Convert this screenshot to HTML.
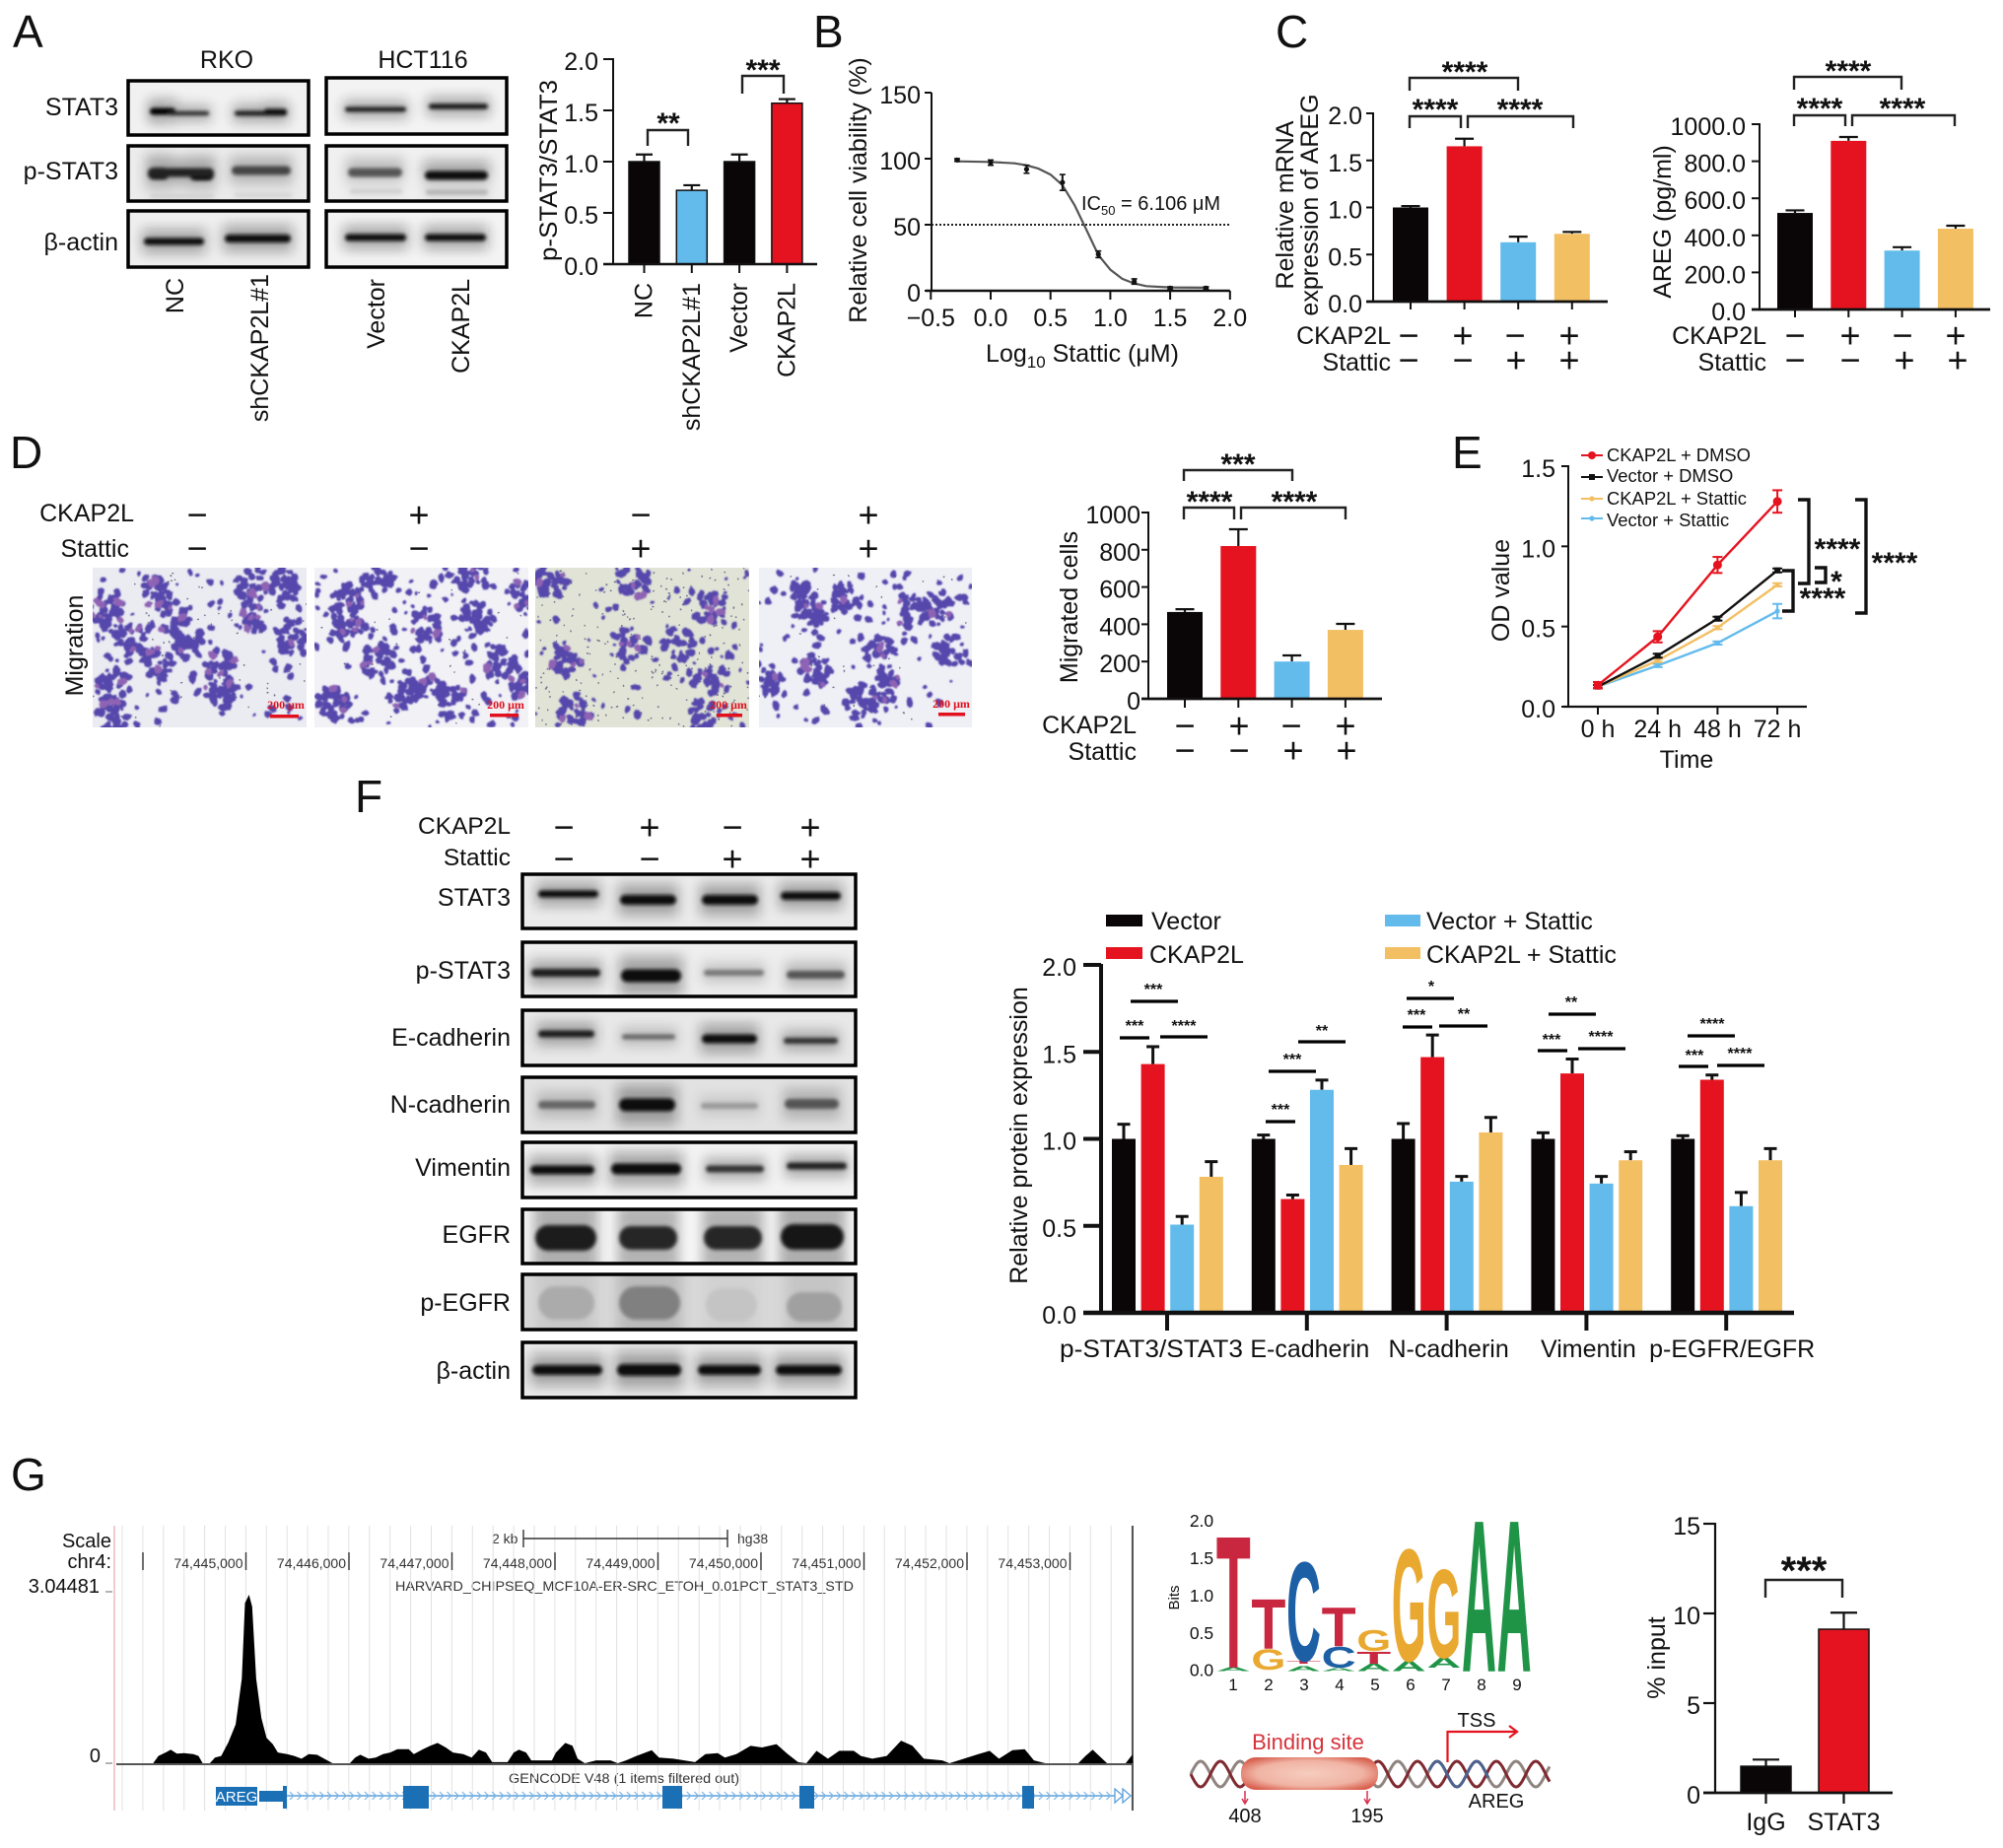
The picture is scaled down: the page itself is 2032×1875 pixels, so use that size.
<!DOCTYPE html>
<html lang="en">
<head>
<meta charset="utf-8">
<title>CKAP2L STAT3 AREG multi-panel figure</title>
<style>
html,body{margin:0;padding:0;background:#fff;}
svg{display:block;font-family:"Liberation Sans",sans-serif;fill:#111;}
text{font-size:25px;}
.e{text-anchor:end;}
.m{text-anchor:middle;}
.L{font-size:46px;}
.st{font-weight:bold;text-anchor:middle;font-size:30px;}
.fs{font-weight:bold;text-anchor:middle;font-size:16px;}
.br{fill:none;stroke:#222;stroke-width:2.4;}
.brb{fill:none;stroke:#111;stroke-width:3.4;}
.sg{stroke:#000;stroke-width:3.2;}
.sb{font-family:"Liberation Serif",serif;font-weight:bold;font-size:12px;fill:#e0101c;text-anchor:middle;}
.ucsc{font-size:14px;fill:#333;}
</style>
</head>
<body>
<svg id="figure" xmlns="http://www.w3.org/2000/svg" width="2032" height="1875" viewBox="0 0 2032 1875">
<defs>
<filter id="blot-blur" x="-30%" y="-200%" width="160%" height="500%"><feGaussianBlur stdDeviation="1.8"/></filter>
<filter id="blot-halo" x="-30%" y="-300%" width="160%" height="700%"><feGaussianBlur stdDeviation="6"/></filter>
<filter id="mig-soft" x="0" y="0" width="100%" height="100%"><feGaussianBlur stdDeviation="0.7"/></filter>
<radialGradient id="pill-grad" cx="50%" cy="50%" r="60%"><stop offset="0%" stop-color="#f6cdbf"/><stop offset="65%" stop-color="#f0b3a3"/><stop offset="100%" stop-color="#d8604f"/></radialGradient>
</defs>
<rect x="0" y="0" width="2032" height="1875" fill="#fff"/>

<g id="layer-under"></g>

<g>
<text class="L" x="13" y="48">A</text>
<text class="L" x="825" y="48">B</text>
<text class="L" x="1294" y="48">C</text>
<text class="L" x="10" y="475">D</text>
<text class="L" x="1473" y="475">E</text>
<text class="L" x="360" y="824">F</text>
<text class="L" x="11" y="1512">G</text>
</g>

<g>
<text class="m" x="230" y="69">RKO</text>
<text class="m" x="429" y="69">HCT116</text>
<text class="e" x="120" y="117">STAT3</text>
<text class="e" x="120" y="182">p-STAT3</text>
<text class="e" x="120" y="254">β-actin</text>
<text class="e" transform="translate(186,282) rotate(-90)">NC</text>
<text class="e" transform="translate(272,278) rotate(-90)">shCKAP2L#1</text>
<text class="e" transform="translate(390,283) rotate(-90)">Vector</text>
<text class="e" transform="translate(476,283) rotate(-90)">CKAP2L</text>
<text class="m" transform="translate(565,173) rotate(-90)" textLength="184" lengthAdjust="spacingAndGlyphs">p-STAT3/STAT3</text>
</g>
<g>
<path class="br" d="M657 148V132H698V148"/>
<path class="br" d="M753 95V77H795V95"/>
<text class="st" x="678" y="135">**</text>
<text class="st" x="774" y="81">***</text>
</g>

<g>
<text class="m" transform="translate(879,193) rotate(-90)">Relative cell viability (%)</text>
<text class="m" x="1098" y="367">Log<tspan dy="6" font-size="17">10</tspan><tspan dy="-6"> Stattic (μM)</tspan></text>
<text x="1097" y="213" style="font-size:20px">IC<tspan dy="5" font-size="13">50</tspan><tspan dy="-5"> = 6.106 μM</tspan></text>
</g>

<g>
<text class="m" transform="translate(1312,208) rotate(-90)">Relative mRNA</text>
<text class="m" transform="translate(1337,208) rotate(-90)">expression of AREG</text>
<text class="e" x="1411" y="349">CKAP2L</text>
<text class="e" x="1411" y="376">Stattic</text>
<text class="m" transform="translate(1695,225) rotate(-90)">AREG (pg/ml)</text>
<text class="e" x="1792" y="349">CKAP2L</text>
<text class="e" x="1792" y="376">Stattic</text>
<path class="br" d="M1430 92V79H1540V92M1430 130V118H1482V130M1489 130V118H1596V130"/>
<path class="br" d="M1820 91V78H1929V91M1820 128V117H1872V128M1879 128V117H1983V128"/>
<text class="st" x="1486" y="83">****</text>
<text class="st" x="1456" y="121">****</text>
<text class="st" x="1542" y="121">****</text>
<text class="st" x="1875" y="82">****</text>
<text class="st" x="1846" y="120">****</text>
<text class="st" x="1930" y="120">****</text>
</g>

<g>
<text class="e" x="136" y="529">CKAP2L</text>
<text class="e" x="131" y="565">Stattic</text>
<text class="m" transform="translate(84,655) rotate(-90)">Migration</text>
<text class="m" transform="translate(1093,616) rotate(-90)">Migrated cells</text>
<text class="e" x="1153" y="744">CKAP2L</text>
<text class="e" x="1153" y="771">Stattic</text>
<path class="br" d="M1201 488V477H1311V488M1201 527V515H1252V527M1259 527V515H1365V527"/>
<text class="st" x="1256" y="481">***</text>
<text class="st" x="1227" y="519">****</text>
<text class="st" x="1313" y="519">****</text>
</g>

<g>
<text class="m" transform="translate(1531,599) rotate(-90)">OD value</text>
<text class="m" x="1711" y="779">Time</text>
<path class="brb" d="M1824 507H1835V592H1824"/>
<path class="brb" d="M1841 576H1852V591H1841"/>
<path class="brb" d="M1808 579H1819V620H1808"/>
<path class="brb" d="M1882 507H1893V622H1882"/>
<text class="st" x="1864" y="567">****</text>
<text class="st" x="1863" y="600">*</text>
<text class="st" x="1849" y="617">****</text>
<text class="st" x="1922" y="581">****</text>
<g>
<text x="1630" y="468" style="font-size:18.4px">CKAP2L + DMSO</text>
<text x="1630" y="489" style="font-size:18.4px">Vector + DMSO</text>
<text x="1630" y="512" style="font-size:18.4px">CKAP2L + Stattic</text>
<text x="1630" y="534" style="font-size:18.4px">Vector + Stattic</text>
<path d="M1604 462H1626" stroke="#e5131f" stroke-width="2"/>
<circle cx="1615" cy="462" r="4" fill="#e5131f"/>
<path d="M1604 484H1626" stroke="#111" stroke-width="2"/>
<rect x="1612" y="481" width="6" height="6" fill="#111"/>
<path d="M1604 506H1626" stroke="#f3bf63" stroke-width="2"/>
<circle cx="1615" cy="506" r="2.6" fill="#f3bf63"/>
<path d="M1604 526H1626" stroke="#63bbec" stroke-width="2"/>
<circle cx="1615" cy="526" r="2.6" fill="#63bbec"/>
</g>
</g>

<g>
<text class="e" x="518" y="846" style="font-size:24.5px">CKAP2L</text>
<text class="e" x="518" y="878" style="font-size:24.5px">Stattic</text>
<text class="e" x="518" y="919">STAT3</text>
<text class="e" x="518" y="993">p-STAT3</text>
<text class="e" x="518" y="1061">E-cadherin</text>
<text class="e" x="518" y="1129">N-cadherin</text>
<text class="e" x="518" y="1193">Vimentin</text>
<text class="e" x="518" y="1261">EGFR</text>
<text class="e" x="518" y="1330">p-EGFR</text>
<text class="e" x="518" y="1399">β-actin</text>
</g>

<g>
<text class="m" transform="translate(1042,1152) rotate(-90)">Relative protein expression</text>
<rect x="1122" y="928" width="37" height="12" fill="#0a0506"/>
<rect x="1122" y="961" width="37" height="12" fill="#e5131f"/>
<rect x="1405" y="928" width="36" height="12" fill="#63bbec"/>
<rect x="1405" y="961" width="36" height="12" fill="#f3bf63"/>
<text x="1168" y="943">Vector</text>
<text x="1166" y="977">CKAP2L</text>
<text x="1447" y="943">Vector + Stattic</text>
<text x="1447" y="977">CKAP2L + Stattic</text>
<path class="sg" d="M1136 1053H1166M1147 1016H1195M1177 1052H1225M1284 1138H1314M1287 1087H1335M1317 1057H1365M1423 1042H1453M1427 1013H1475M1460 1041H1509M1560 1066H1590M1571 1029H1619M1601 1064H1649M1703 1082H1733M1712 1051H1760M1742 1081H1790"/>
<text class="fs" x="1151" y="1046">***</text>
<text class="fs" x="1170" y="1009">***</text>
<text class="fs" x="1201" y="1046">****</text>
<text class="fs" x="1299" y="1131">***</text>
<text class="fs" x="1311" y="1080">***</text>
<text class="fs" x="1341" y="1051">**</text>
<text class="fs" x="1437" y="1035">***</text>
<text class="fs" x="1452" y="1006">*</text>
<text class="fs" x="1485" y="1034">**</text>
<text class="fs" x="1574" y="1060">***</text>
<text class="fs" x="1594" y="1022">**</text>
<text class="fs" x="1624" y="1057">****</text>
<text class="fs" x="1719" y="1076">***</text>
<text class="fs" x="1737" y="1044">****</text>
<text class="fs" x="1765" y="1074">****</text>
</g>

<g>
<text class="e" x="113" y="1570" style="font-size:20px">Scale</text>
<text class="e" x="113" y="1591" style="font-size:20px">chr4:</text>
<text class="e" x="101" y="1616" style="font-size:20px">3.04481</text>
<text class="e" x="102" y="1788" style="font-size:20px">0</text>
<text class="ucsc" x="499" y="1566">2 kb</text>
<text class="ucsc" x="748" y="1566">hg38</text>
<text class="ucsc" x="401" y="1614" textLength="465" lengthAdjust="spacingAndGlyphs">HARVARD_CHIPSEQ_MCF10A-ER-SRC_ETOH_0.01PCT_STAT3_STD</text>
<text class="ucsc" x="516" y="1809" textLength="234" lengthAdjust="spacingAndGlyphs">GENCODE V48 (1 items filtered out)</text>
</g>

<g>
<text class="m" transform="translate(1196,1621) rotate(-90)" style="font-size:15px">Bits</text>
</g>

<g>
<text class="m" x="1327" y="1775" style="font-size:22px;fill:#d6333a">Binding site</text>
<text class="m" x="1498" y="1752" style="font-size:20px">TSS</text>
<text class="m" x="1518" y="1834" style="font-size:20px">AREG</text>
<text class="m" x="1263" y="1849" style="font-size:20px">408</text>
<text class="m" x="1387" y="1849" style="font-size:20px">195</text>
</g>

<g>
<text class="m" transform="translate(1689,1682) rotate(-90)">% input</text>
<path class="br" d="M1791 1621V1603H1869V1621"/>
<text class="st" x="1830" y="1607" style="font-size:40px">***</text>
</g>

<g id="layer-marks"></g>

<g>
<text class="sb" x="290" y="719">200 μm</text>
<text class="sb" x="513" y="719">200 μm</text>
<text class="sb" x="739" y="719">200 μm</text>
<text class="sb" x="965" y="718">200 μm</text>
<rect x="274" y="725" width="29" height="3.5" fill="#e0101c"/>
<rect x="497" y="724" width="29" height="3.5" fill="#e0101c"/>
<rect x="727" y="724" width="26" height="3.5" fill="#e0101c"/>
<rect x="952" y="723" width="27" height="3.5" fill="#e0101c"/>
</g>
</svg>

<script>
/* ---------- chart data ---------- */
const aCategories = ['NC', 'shCKAP2L#1', 'Vector', 'CKAP2L'];
const aValues = [1.0, 0.72, 1.0, 1.57];
const aErrors = [0.07, 0.05, 0.07, 0.04];
const aTicks = [0, 0.5, 1, 1.5, 2];
const aTickLabels = ['0.0', '0.5', '1.0', '1.5', '2.0'];

const viabilityPointDose = [-0.28, 0, 0.3, 0.6, 0.9, 1.2, 1.5, 1.8];
const viabilityPointValues = [99, 97, 92, 82, 27.6, 7, 2, 2];
const viabilityPointErrors = [1, 2, 3, 6, 2.5, 2, 1, 1];
const viabilityCurveDose = [-0.28, 0, 0.2, 0.3, 0.4, 0.5, 0.6, 0.7, 0.78, 0.9, 1.0, 1.1, 1.2, 1.3, 1.5, 1.8];
const viabilityCurveValues = [98, 97.5, 96.5, 95, 92.5, 88, 80, 65, 50, 27, 16, 9, 5.5, 3.5, 2.5, 2.3];
const bXTicks = [-0.5, 0, 0.5, 1, 1.5, 2];
const bXTickLabels = ['−0.5', '0.0', '0.5', '1.0', '1.5', '2.0'];
const bYTicks = [0, 50, 100, 150];
const bYTickLabels = ['0', '50', '100', '150'];
const ic50Reference = 50;

const conditionCategories = ['control', 'ckap2l', 'stattic', 'ckap2l-stattic'];
const c1Values = [1.0, 1.65, 0.63, 0.72];
const c1Errors = [0.015, 0.08, 0.06, 0.02];
const c1Ticks = [0, 0.5, 1, 1.5, 2];
const c1TickLabels = ['0.0', '0.5', '1.0', '1.5', '2.0'];
const c2Values = [521, 910, 318, 436];
const c2Errors = [14, 21, 18, 16];
const c2Ticks = [0, 200, 400, 600, 800, 1000];
const c2TickLabels = ['0.0', '200.0', '400.0', '600.0', '800.0', '1000.0'];

const dValues = [466, 820, 200, 370];
const dErrors = [15, 90, 33, 32];
const dTicks = [0, 200, 400, 600, 800, 1000];
const dTickLabels = ['0', '200', '400', '600', '800', '1000'];

const ckap2lSigns = ['−', '+', '−', '+'];
const statticSigns = ['−', '−', '+', '+'];

const eTimeLabels = ['0 h', '24 h', '48 h', '72 h'];
const eCkap2lDmso = [0.134, 0.436, 0.884, 1.28];
const eCkap2lDmsoErr = [0.02, 0.035, 0.05, 0.07];
const eVectorDmso = [0.125, 0.318, 0.549, 0.85];
const eVectorDmsoErr = [0.01, 0.012, 0.012, 0.012];
const eCkap2lStattic = [0.125, 0.288, 0.493, 0.76];
const eCkap2lStatticErr = [0.01, 0.01, 0.01, 0.01];
const eVectorStattic = [0.125, 0.257, 0.397, 0.596];
const eVectorStatticErr = [0.01, 0.01, 0.01, 0.045];
const eTicks = [0, 0.5, 1, 1.5];
const eTickLabels = ['0.0', '0.5', '1.0', '1.5'];

const fCategories = ['p-STAT3/STAT3', 'E-cadherin', 'N-cadherin', 'Vimentin', 'p-EGFR/EGFR'];
const fVector = [1.0, 1.0, 1.0, 1.0, 1.0];
const fVectorErr = [0.084, 0.022, 0.088, 0.035, 0.018];
const fCkap2l = [1.43, 0.654, 1.47, 1.376, 1.34];
const fCkap2lErr = [0.10, 0.023, 0.127, 0.083, 0.027];
const fVectorStattic = [0.507, 1.282, 0.754, 0.743, 0.613];
const fVectorStatticErr = [0.047, 0.056, 0.03, 0.041, 0.079];
const fCkap2lStattic = [0.782, 0.85, 1.037, 0.877, 0.877];
const fCkap2lStatticErr = [0.087, 0.094, 0.086, 0.049, 0.067];
const fTicks = [0, 0.5, 1, 1.5, 2];
const fTickLabels = ['0.0', '0.5', '1.0', '1.5', '2.0'];

/* ChIP-seq coverage: kb past chr4:74,444,000 and signal */
const coverageKb = [0.10,0.15,0.22,0.27,0.33,0.40,0.49,0.54,0.58,0.65,0.70,0.76,0.83,0.90,0.96,0.99,1.03,1.06,1.10,1.15,1.20,1.26,1.31,1.40,1.47,1.54,1.61,1.69,1.76,1.84,2.01,2.06,2.11,2.19,2.26,2.33,2.40,2.47,2.58,2.63,2.72,2.79,2.86,2.94,3.01,3.11,3.19,3.26,3.33,3.39,3.54,3.60,3.65,3.72,3.77,3.97,4.01,4.10,4.17,4.22,4.29,4.40,4.54,4.61,4.69,4.79,4.94,5.01,5.15,5.36,5.46,5.58,5.65,5.76,5.90,6.01,6.15,6.26,6.36,6.44,6.54,6.65,6.76,6.90,6.97,7.08,7.22,7.36,7.47,7.58,7.76,7.83,7.97,8.11,8.22,8.31,8.44,8.56,8.65,8.76,9.08,9.15,9.22,9.33,9.36,9.54,9.61];
const coverageSignal = [0,0.13,0.19,0.24,0.17,0.18,0.16,0.13,0,0,0.10,0.13,0.37,0.69,1.50,2.84,2.99,2.78,1.50,0.80,0.45,0.34,0.19,0.16,0.13,0.08,0.16,0.15,0.08,0,0,0.10,0.15,0.08,0.10,0.16,0.19,0.25,0.25,0.16,0.25,0.31,0.36,0.28,0.19,0.16,0.10,0.24,0.19,0.02,0.02,0.19,0.24,0.19,0.05,0.05,0.19,0.36,0.31,0.08,0,0.05,0.05,0,0.05,0.13,0.23,0.10,0.08,0.02,0.16,0.18,0.10,0.16,0.31,0.28,0.34,0.16,0.02,0,0.22,0.08,0.22,0.22,0.13,0.08,0.13,0.40,0.31,0.08,0.05,0,0.08,0.16,0.22,0.08,0.23,0.25,0.05,0,0,0.13,0.24,0.05,0,0,0.16];
const coordTickKb = [1, 2, 3, 4, 5, 6, 7, 8, 9];
const coordTickLabels = ['74,445,000','74,446,000','74,447,000','74,448,000','74,449,000','74,450,000','74,451,000','74,452,000','74,453,000'];

/* sequence logo: column, letter, lower bits, upper bits */
const logoColumns = [1,1,2,2,3,3,3,4,4,4,5,5,5,6,6,7,7,8,9];
const logoLetters = ['A','T','G','T','A','T','C','A','C','T','A','T','G','A','G','A','G','A','A'];
const logoLower = [0,0.05,0.02,0.30,0,0.10,0.14,0,0.05,0.34,0,0.10,0.27,0,0.14,0.05,0.18,0,0];
const logoUpper = [0.05,1.79,0.29,0.96,0.07,0.14,1.45,0.04,0.33,0.85,0.10,0.26,0.55,0.13,1.62,0.18,1.34,2,2];
const logoTicks = [0, 0.5, 1, 1.5, 2];
const logoTickLabels = ['0.0', '0.5', '1.0', '1.5', '2.0'];
const logoPositions = ['1','2','3','4','5','6','7','8','9'];

const chipCategories = ['IgG', 'STAT3'];
const chipValues = [1.48, 9.12];
const chipErrors = [0.37, 0.92];
const chipTicks = [0, 5, 10, 15];
const chipTickLabels = ['0', '5', '10', '15'];

/* ---------- drawing helpers ---------- */
const NS = 'http://www.w3.org/2000/svg';
const marks = document.getElementById('layer-marks');
const under = document.getElementById('layer-under');
const BLACK = '#0a0506', RED = '#e5131f', BLUE = '#63bbec', ORANGE = '#f3bf63';

function mk(tag, attrs, parent, name) {
  const el = document.createElementNS(NS, tag);
  for (const k in attrs) el.setAttribute(k, attrs[k]);
  
  
  parent.appendChild(el);
  return el;
}
function label(str, attrs, parent, name) {
  const el = mk('text', attrs, parent, name);
  el.textContent = str;
  return el;
}
function scaleY(o) {
  return function (v) { return o.yZero - (v / o.maxV) * (o.yZero - o.yTop); };
}
function drawAxes(o, ticks, tickLabels) {
  const y = scaleY(o);
  const g = mk('g', {}, marks, o.id + '-axes');
  mk('line', {x1: o.axisX, x2: o.axisX, y1: o.yTop - 1, y2: o.yZero, stroke: '#111', 'stroke-width': o.axisW}, g, o.id + '-y-axis');
  ticks.forEach(function (t, i) {
    mk('line', {x1: o.tickLeft, x2: o.axisX, y1: y(t), y2: y(t), stroke: '#111', 'stroke-width': o.axisW}, g, o.id + '-y-tick');
    label(tickLabels[i], {x: o.labelX, y: y(t) + 11, class: 'e'}, g, o.id + '-y-tick-label');
  });
  return g;
}
function drawBars(o, g, xs, vals, errs, colors, names) {
  const y = scaleY(o);
  xs.forEach(function (x, i) {
    const top = y(vals[i]);
    const et = y(vals[i] + errs[i]);
    const cx = x + o.w / 2;
    mk('line', {x1: cx, x2: cx, y1: top, y2: et, stroke: '#111', 'stroke-width': o.errW}, g, names[i] + '-error-bar');
    mk('line', {x1: cx - o.capW / 2, x2: cx + o.capW / 2, y1: et, y2: et, stroke: '#111', 'stroke-width': o.errW}, g, names[i] + '-error-cap');
    const attrs = {x: x, y: top, width: o.w, height: o.yZero - top, fill: colors[i]};
    if (o.outline) { attrs.stroke = '#111'; attrs['stroke-width'] = o.outline; }
    mk('rect', attrs, g, names[i]);
  });
}
function drawBaseline(o, g) {
  mk('line', {x1: o.base1, x2: o.base2, y1: o.yZero, y2: o.yZero, stroke: '#111', 'stroke-width': o.baseW}, g, o.id + '-x-axis');
}
function simpleBarChart(o, cats, vals, errs, ticks, tickLabels, colors) {
  const g = drawAxes(o, ticks, tickLabels);
  const xs = vals.map(function (v, i) { return o.x0 + i * o.step; });
  drawBars(o, g, xs, vals, errs, colors, cats.map(function (c) { return o.id + '-bar-' + c.toLowerCase().replace(/[^a-z0-9]+/g, '-'); }));
  drawBaseline(o, g);
  xs.forEach(function (x) {
    const cx = x + o.w / 2;
    mk('line', {x1: cx, x2: cx, y1: o.yZero, y2: o.tickBottom, stroke: '#111', 'stroke-width': o.axisW}, g, o.id + '-x-tick');
  });
  return {g: g, centers: xs.map(function (x) { return x + o.w / 2; })};
}
function drawSigns(name, xs, yc, signs) {
  const g = mk('g', {}, marks, name);
  signs.forEach(function (s, i) {
    label(s, {x: xs[i], y: yc + 12.5, class: 'm', style: 'font-size:36px'}, g, name + '-sign');
  });
}

/* ---------- panel A: bars ---------- */
const a = {id: 'a', axisX: 622, yZero: 268, yTop: 60, maxV: 2, x0: 638, step: 48.3, w: 31, base1: 612, base2: 829, tickLeft: 612, labelX: 607, tickBottom: 277, axisW: 2, baseW: 2.4, capW: 17, errW: 2.2, outline: 1.5};
const aDrawn = simpleBarChart(a, aCategories, aValues, aErrors, aTicks, aTickLabels, [BLACK, BLUE, BLACK, RED]);
aDrawn.centers.forEach(function (cx, i) {
  label(aCategories[i], {transform: 'translate(' + (cx + 8) + ',287) rotate(-90)', class: 'e'}, aDrawn.g, 'a-x-tick-label');
});

/* ---------- panel B: dose response ---------- */
(function () {
  const X = function (v) { return 1005 + v * 121.4; };
  const Y = function (v) { return 295 - v * 1.34; };
  const g = mk('g', {}, marks, 'b-chart');
  mk('line', {x1: 945, x2: 945, y1: Y(150), y2: 295, stroke: '#111', 'stroke-width': 2}, g, 'b-y-axis');
  mk('line', {x1: 939, x2: X(2), y1: 295, y2: 295, stroke: '#111', 'stroke-width': 2.4}, g, 'b-x-axis');
  bYTicks.forEach(function (t, i) {
    mk('line', {x1: 938, x2: 945, y1: Y(t), y2: Y(t), stroke: '#111', 'stroke-width': 2}, g, 'b-y-tick');
    label(bYTickLabels[i], {x: 934, y: Y(t) + 11, class: 'e'}, g, 'b-y-tick-label');
  });
  bXTicks.forEach(function (t, i) {
    mk('line', {x1: X(t), x2: X(t), y1: 295, y2: 304, stroke: '#111', 'stroke-width': 2}, g, 'b-x-tick');
    label(bXTickLabels[i], {x: X(t), y: 331, class: 'm'}, g, 'b-x-tick-label');
  });
  mk('line', {x1: 945, x2: X(2), y1: Y(ic50Reference), y2: Y(ic50Reference), stroke: '#222', 'stroke-width': 2, 'stroke-dasharray': '2 2'}, g, 'ic50-reference-line');
  const pts = viabilityCurveDose.map(function (d, i) { return X(d).toFixed(1) + ',' + Y(viabilityCurveValues[i]).toFixed(1); }).join(' ');
  mk('polyline', {points: pts, fill: 'none', stroke: '#555', 'stroke-width': 2.2, 'stroke-linejoin': 'round'}, g, 'viability-fit-curve');
  viabilityPointDose.forEach(function (d, i) {
    const cx = X(d), v = viabilityPointValues[i], e = viabilityPointErrors[i];
    mk('line', {x1: cx, x2: cx, y1: Y(v - e), y2: Y(v + e), stroke: '#111', 'stroke-width': 2}, g, 'viability-error-bar');
    mk('line', {x1: cx - 3, x2: cx + 3, y1: Y(v + e), y2: Y(v + e), stroke: '#111', 'stroke-width': 1.6}, g, 'viability-error-cap');
    mk('line', {x1: cx - 3, x2: cx + 3, y1: Y(v - e), y2: Y(v - e), stroke: '#111', 'stroke-width': 1.6}, g, 'viability-error-cap');
    mk('circle', {cx: cx, cy: Y(v), r: 2.6, fill: '#111'}, g, 'viability-point');
  });
})();

/* ---------- panel C ---------- */
const fourColors = [BLACK, RED, BLUE, ORANGE];
simpleBarChart({id: 'c1', axisX: 1393, yZero: 306, yTop: 115, maxV: 2, x0: 1413, step: 54.6, w: 36, base1: 1386, base2: 1631, tickLeft: 1386, labelX: 1382, tickBottom: 314, axisW: 2, baseW: 2.8, capW: 19, errW: 2.2}, conditionCategories, c1Values, c1Errors, c1Ticks, c1TickLabels, fourColors);
simpleBarChart({id: 'c2', axisX: 1785, yZero: 314, yTop: 126, maxV: 1000, x0: 1803, step: 54.3, w: 36, base1: 1777, base2: 2019, tickLeft: 1777, labelX: 1771, tickBottom: 322, axisW: 2, baseW: 2.8, capW: 19, errW: 2.2}, conditionCategories, c2Values, c2Errors, c2Ticks, c2TickLabels, fourColors);
drawSigns('c1-ckap2l-signs', [1429, 1484, 1537, 1592], 340, ckap2lSigns);
drawSigns('c1-stattic-signs', [1429, 1484, 1538, 1592], 365, statticSigns);
drawSigns('c2-ckap2l-signs', [1821, 1877, 1930, 1984], 340, ckap2lSigns);
drawSigns('c2-stattic-signs', [1821, 1877, 1932, 1986], 365, statticSigns);

/* ---------- panel D chart ---------- */
simpleBarChart({id: 'd', axisX: 1165, yZero: 709, yTop: 520, maxV: 1000, x0: 1184, step: 54.3, w: 36, base1: 1158, base2: 1402, tickLeft: 1158, labelX: 1157, tickBottom: 718, axisW: 2, baseW: 2.8, capW: 19, errW: 2.2}, conditionCategories, dValues, dErrors, dTicks, dTickLabels, fourColors);
drawSigns('d-chart-ckap2l-signs', [1202, 1257, 1310, 1365], 736, ckap2lSigns);
drawSigns('d-chart-stattic-signs', [1202, 1257, 1312, 1366], 761, statticSigns);
drawSigns('d-image-ckap2l-signs', [200, 425, 650, 881], 522, ckap2lSigns);
drawSigns('d-image-stattic-signs', [200, 425, 650, 881], 556, statticSigns);
drawSigns('f-ckap2l-signs', [572, 659, 743, 822], 839, ckap2lSigns);
drawSigns('f-stattic-signs', [572, 659, 743, 822], 871, statticSigns);

/* ---------- panel E ---------- */
(function () {
  const o = {id: 'e', axisX: 1591, yZero: 717, yTop: 473, maxV: 1.5, tickLeft: 1584, labelX: 1578, axisW: 2};
  const g = drawAxes(o, eTicks, eTickLabels);
  const Y = scaleY(o);
  const X = function (i) { return 1621 + i * 60.7; };
  mk('line', {x1: 1586, x2: 1833, y1: 717, y2: 717, stroke: '#111', 'stroke-width': 2.2}, g, 'e-x-axis');
  eTimeLabels.forEach(function (t, i) {
    mk('line', {x1: X(i), x2: X(i), y1: 717, y2: 725, stroke: '#111', 'stroke-width': 2}, g, 'e-x-tick');
    label(t, {x: X(i), y: 748, class: 'm'}, g, 'e-x-tick-label');
  });
  function series(name, vals, errs, color, r, square) {
    const s = mk('g', {}, g, name);
    const pts = vals.map(function (v, i) { return X(i) + ',' + Y(v).toFixed(1); }).join(' ');
    mk('polyline', {points: pts, fill: 'none', stroke: color, 'stroke-width': 2.4}, s, name + '-line');
    vals.forEach(function (v, i) {
      const hi = Y(v + errs[i]), lo = Y(v - errs[i]);
      mk('line', {x1: X(i), x2: X(i), y1: hi, y2: lo, stroke: color, 'stroke-width': 2}, s, name + '-error-bar');
      mk('line', {x1: X(i) - 5, x2: X(i) + 5, y1: hi, y2: hi, stroke: color, 'stroke-width': 2}, s, name + '-error-cap');
      mk('line', {x1: X(i) - 5, x2: X(i) + 5, y1: lo, y2: lo, stroke: color, 'stroke-width': 2}, s, name + '-error-cap');
      if (square) mk('rect', {x: X(i) - r, y: Y(v) - r, width: 2 * r, height: 2 * r, fill: color}, s, name + '-point');
      else mk('circle', {cx: X(i), cy: Y(v), r: r, fill: color}, s, name + '-point');
    });
  }
  series('vector-stattic-series', eVectorStattic, eVectorStatticErr, BLUE, 2.5, false);
  series('ckap2l-stattic-series', eCkap2lStattic, eCkap2lStatticErr, ORANGE, 2.5, false);
  series('vector-dmso-series', eVectorDmso, eVectorDmsoErr, '#111', 3, true);
  series('ckap2l-dmso-series', eCkap2lDmso, eCkap2lDmsoErr, RED, 4.5, false);
})();

/* ---------- panel F chart ---------- */
(function () {
  const o = {id: 'f', axisX: 1117, yZero: 1332, yTop: 979, maxV: 2, tickLeft: 1099, labelX: 1092, axisW: 4, w: 24, capW: 13, errW: 3};
  const g = drawAxes(o, fTicks, fTickLabels);
  const series = [fVector, fCkap2l, fVectorStattic, fCkap2lStattic];
  const seriesErr = [fVectorErr, fCkap2lErr, fVectorStatticErr, fCkap2lStatticErr];
  const seriesName = ['vector', 'ckap2l', 'vector-stattic', 'ckap2l-stattic'];
  const nudge = [-16, 3, 2, 2, 6];
  fCategories.forEach(function (c, gi) {
    const gx = 1128 + gi * 141.8;
    const cSlug = c.toLowerCase().replace(/[^a-z0-9]+/g, '-');
    const xs = series.map(function (s, si) { return gx + si * 29.6; });
    drawBars(o, g, xs,
      series.map(function (s) { return s[gi]; }),
      seriesErr.map(function (s) { return s[gi]; }),
      fourColors,
      seriesName.map(function (n) { return 'f-bar-' + cSlug + '-' + n; }));
    const cx = gx + 56;
    mk('line', {x1: cx, x2: cx, y1: 1332, y2: 1350, stroke: '#111', 'stroke-width': 4}, g, 'f-x-tick');
    const attrs = {x: cx + nudge[gi], y: 1377, class: 'm'};
    if (gi === 0) { attrs.textLength = 186; attrs.lengthAdjust = 'spacingAndGlyphs'; }
    label(c, attrs, g, 'f-x-tick-label');
  });
  mk('line', {x1: 1099, x2: 1820, y1: 1332, y2: 1332, stroke: '#111', 'stroke-width': 4.5}, g, 'f-x-axis');
})();

/* ---------- western blots ---------- */
function blot(name, x1, y1, x2, y2, bg, bands) {
  const g = mk('g', {}, under, name);
  const clipId = name + '-clip';
  const clip = mk('clipPath', {id: clipId}, g, name + '-clip');
  mk('rect', {x: x1, y: y1, width: x2 - x1, height: y2 - y1}, clip, name + '-clip-rect');
  const inner = mk('g', {'clip-path': 'url(#' + clipId + ')'}, g, name + '-membrane-area');
  mk('rect', {x: x1, y: y1, width: x2 - x1, height: y2 - y1, fill: bg}, inner, name + '-membrane');
  const h = mk('g', {filter: 'url(#blot-halo)', opacity: 0.32}, inner, name + '-band-halos');
  bands.forEach(function (d) {
    mk('rect', {x: d[0] - 2, y: d[2] - d[3] * 1.3 - 3, width: d[1] - d[0] + 4, height: d[3] * 2.6 + 6, fill: d[4]}, h, name + '-band-halo');
  });
  const b = mk('g', {filter: 'url(#blot-blur)'}, inner, name + '-bands');
  bands.forEach(function (d) {
    mk('rect', {x: d[0], y: d[2] - d[3] / 2, width: d[1] - d[0], height: d[3], rx: d[3] / 2, fill: d[4]}, b, name + '-band');
  });
  mk('rect', {x: x1, y: y1, width: x2 - x1, height: y2 - y1, fill: 'none', stroke: '#000', 'stroke-width': 3.5}, g, name + '-frame');
}
blot('a-rko-stat3-blot', 130, 82, 313, 137, '#f1f1f1', [[152,178,113,7,'#000'],[170,212,115,4,'#222'],[238,291,115,5,'#1c1c1c'],[268,291,113,5,'#111']]);
blot('a-rko-p-stat3-blot', 130, 148, 313, 204, '#ececec', [[150,172,176,12,'#000'],[192,217,177,12,'#000'],[150,217,175,9,'#222'],[235,295,173,9,'#444'],[152,217,199,3,'#ccc'],[238,296,198,4,'#d4d4d4']]);
blot('a-rko-actin-blot', 130, 214, 313, 271, '#eeeeee', [[146,207,245,7,'#111'],[228,295,242,8,'#0c0c0c']]);
blot('a-hct-stat3-blot', 331, 79, 514, 136, '#f3f3f3', [[350,412,111,5,'#1a1a1a'],[435,495,108,5,'#111']]);
blot('a-hct-p-stat3-blot', 331, 148, 514, 204, '#f0f0f0', [[353,408,175,9,'#555'],[431,495,178,9,'#0c0c0c'],[355,408,194,5,'#d0d0d0'],[432,495,195,5,'#b4b4b4']]);
blot('a-hct-actin-blot', 331, 214, 514, 271, '#f3f3f3', [[350,412,241,7,'#0c0c0c'],[431,493,241,7,'#111']]);

blot('f-stat3-blot', 530, 887, 868, 942, '#ebebeb', [[546,607,907,7,'#111'],[629,686,913,10,'#0c0c0c'],[712,769,913,10,'#0c0c0c'],[792,853,909,8,'#111']]);
blot('f-p-stat3-blot', 530, 956, 868, 1011, '#eeeeee', [[539,609,987,8,'#1a1a1a'],[630,691,990,13,'#0a0a0a'],[714,775,987,6,'#777'],[798,857,989,8,'#555']]);
blot('f-e-cadherin-blot', 530, 1025, 868, 1081, '#e8e8e8', [[546,603,1049,7,'#1a1a1a'],[631,685,1052,5,'#666'],[712,768,1054,9,'#0c0c0c'],[795,850,1056,6,'#333']]);
blot('f-n-cadherin-blot', 530, 1093, 868, 1149, '#e2e2e2', [[546,604,1121,8,'#666'],[628,685,1121,13,'#0a0a0a'],[711,769,1122,6,'#999'],[796,851,1120,10,'#555']]);
blot('f-vimentin-blot', 530, 1159, 868, 1215, '#f3f3f3', [[538,603,1187,9,'#111'],[620,691,1186,11,'#080808'],[716,775,1186,7,'#333'],[798,859,1183,7,'#222']]);
blot('f-egfr-blot', 530, 1227, 868, 1282, '#f7f7f7', [[543,605,1256,26,'#1c1c1c'],[628,687,1256,24,'#262626'],[714,773,1256,24,'#262626'],[792,856,1255,26,'#161616']]);
blot('f-p-egfr-blot', 530, 1293, 868, 1349, '#d8d8d8', [[546,603,1322,34,'#ababab'],[628,690,1322,34,'#808080'],[716,768,1324,34,'#c4c4c4'],[798,854,1326,30,'#a0a0a0']]);
blot('f-actin-blot', 530, 1362, 868, 1418, '#ebebeb', [[540,611,1390,10,'#0c0c0c'],[626,691,1390,12,'#0a0a0a'],[708,772,1390,10,'#111'],[787,854,1390,10,'#111']]);

/* ---------- migration micrographs (texture only, not chart data) ---------- */
function micrograph(name, idx, x1, x2, bg, seed, clusters, scatter, dots) {
  const y1 = 576, y2 = 738;
  let s = seed;
  const rnd = function () { s = (s * 16807) % 2147483647; return s / 2147483647; };
  function blob(cx, cy, r) {
    let d = '';
    const n = 7;
    const ang = rnd() * 3.14, stretch = 0.05 + rnd() * 0.45;
    for (let i = 0; i < n; i++) {
      const a = i / n * 6.283 + rnd() * 0.4;
      const rr = r * (0.75 + rnd() * 0.45);
      const px = Math.cos(a) * rr * (1 + stretch), py = Math.sin(a) * rr;
      const qx = px * Math.cos(ang) - py * Math.sin(ang), qy = px * Math.sin(ang) + py * Math.cos(ang);
      d += (i ? 'L' : 'M') + (cx + qx).toFixed(1) + ' ' + (cy + qy).toFixed(1);
    }
    return d + 'Z';
  }
  const g = mk('g', {}, under, name);
  const clip = mk('clipPath', {id: 'mig-clip-' + idx}, g, name + '-clip');
  mk('rect', {x: x1, y: y1, width: x2 - x1, height: y2 - y1}, clip, name + '-clip-rect');
  const inner = mk('g', {'clip-path': 'url(#mig-clip-' + idx + ')'}, g, name + '-field');
  mk('rect', {x: x1, y: y1, width: x2 - x1, height: y2 - y1, fill: bg}, inner, name + '-background');
  let small = '';
  for (let i = 0; i < dots; i++) small += blob(x1 + rnd() * (x2 - x1), y1 + rnd() * (y2 - y1), 0.9);
  mk('path', {d: small, fill: '#777a90'}, inner, name + '-pores');
  let d = '', pink = '';
  for (let i = 0; i < scatter; i++) d += blob(x1 + rnd() * (x2 - x1), y1 + rnd() * (y2 - y1), 1.5 + rnd() * 2.6);
  clusters.forEach(function (c) {
    const cx = c[0] / 1.568, cy = 420 + c[1] / 3;
    for (let i = 0; i < 30; i++) {
      const a = rnd() * 6.283, r = Math.sqrt(rnd()) * 17;
      const b = blob(cx + Math.cos(a) * r, cy + Math.sin(a) * r, 2 + rnd() * 2.4);
      if (rnd() < 0.08) pink += b; else d += b;
    }
  });
  const cells = mk('g', {filter: 'url(#mig-soft)'}, inner, name + '-cell-layer');
  mk('path', {d: d, fill: '#5546ab'}, cells, name + '-cells');
  mk('path', {d: pink, fill: '#8f63b4'}, cells, name + '-cells-pink');
}
micrograph('migration-image-1', 1, 94, 311, '#ebebf2', 1234, [[165,590],[175,640],[250,540],[275,620],[400,520],[400,620],[350,770],[350,850],[180,830],[460,680],[450,520],[210,690],[180,920],[300,700],[250,760]], 100, 70);
micrograph('migration-image-2', 2, 319, 536, '#f1f1f6', 4321, [[550,570],[555,660],[830,550],[680,820],[720,880],[800,760],[600,750],[530,880],[640,850],[830,820],[750,500],[680,640],[600,500],[760,620]], 150, 30);
micrograph('migration-image-3', 3, 543, 760, '#e0e3d6', 9876, [[875,510],[1010,510],[1005,700],[900,745],[1080,700],[1130,800],[1120,920],[915,900],[1130,590]], 90, 260);
micrograph('migration-image-4', 4, 770, 986, '#efeff6', 5555, [[1270,550],[1350,560],[1400,730],[1450,605],[1490,590],[1510,720],[1300,780],[1220,800],[1410,830],[1370,880],[1290,600]], 100, 40);

/* ---------- panel G: genome browser ---------- */
(function () {
  const g = mk('g', {}, marks, 'genome-browser');
  const X = function (kb) { return 145 + kb * 104.5; };
  const Y = function (v) { return 1789 - v * 57.2; };
  const gl = mk('g', {}, g, 'browser-grid');
  for (let x = 124; x < 1149; x += 20.9) {
    mk('line', {x1: x, x2: x, y1: 1548, y2: 1837, stroke: '#e2e2e2', 'stroke-width': 1}, gl, 'browser-grid-line');
  }
  mk('line', {x1: 116, x2: 116, y1: 1548, y2: 1837, stroke: '#f0b8c2', 'stroke-width': 1.5}, g, 'browser-left-edge');
  mk('line', {x1: 1149, x2: 1149, y1: 1548, y2: 1837, stroke: '#222', 'stroke-width': 1.5}, g, 'browser-right-edge');
  mk('line', {x1: 531, x2: 738, y1: 1561, y2: 1561, stroke: '#333', 'stroke-width': 1.6}, g, 'scale-bar');
  mk('path', {d: 'M531 1552V1570M738 1552V1570', stroke: '#333', 'stroke-width': 1.4, fill: 'none'}, g, 'scale-bar-caps');
  mk('line', {x1: X(0), x2: X(0), y1: 1575, y2: 1593, stroke: '#333', 'stroke-width': 1.4}, g, 'coord-tick-start');
  coordTickKb.forEach(function (kb, i) {
    mk('line', {x1: X(kb), x2: X(kb), y1: 1575, y2: 1593, stroke: '#333', 'stroke-width': 1.4}, g, 'coord-tick');
    label(coordTickLabels[i], {x: X(kb) - 3, y: 1591, class: 'e ucsc'}, g, 'coord-tick-label');
  });
  mk('path', {d: 'M107 1615H114M107 1789H114', stroke: '#888', 'stroke-width': 1.2, fill: 'none'}, g, 'track-range-ticks');
  let d = 'M' + X(coverageKb[0]).toFixed(1) + ' 1789';
  coverageKb.forEach(function (kb, i) { d += 'L' + X(kb).toFixed(1) + ' ' + Y(coverageSignal[i]).toFixed(1); });
  d += 'L' + X(coverageKb[coverageKb.length - 1]).toFixed(1) + ' 1789Z';
  mk('path', {d: d, fill: '#000'}, g, 'chipseq-coverage');
  mk('line', {x1: 118, x2: 1149, y1: 1790, y2: 1790, stroke: '#555', 'stroke-width': 2}, g, 'track-baseline');

  const gene = '#1a6fb5';
  mk('line', {x1: 290, x2: 1134, y1: 1822, y2: 1822, stroke: '#5aa0dc', 'stroke-width': 1.4}, g, 'areg-gene-line');
  let chev = '';
  for (let x = 294; x < 1130; x += 7.6) chev += 'M' + x.toFixed(1) + ' 1818L' + (x + 4).toFixed(1) + ' 1822L' + x.toFixed(1) + ' 1826';
  mk('path', {d: chev, fill: 'none', stroke: '#7db4e4', 'stroke-width': 1.2}, g, 'areg-strand-chevrons');
  mk('rect', {x: 219, y: 1813, width: 42, height: 19, fill: gene}, g, 'areg-label-box');
  label('AREG', {x: 240, y: 1828, class: 'm', style: 'font-size:15px;fill:#fff'}, g, 'areg-track-label');
  mk('rect', {x: 263, y: 1817, width: 26, height: 11, fill: gene}, g, 'areg-utr');
  mk('rect', {x: 287, y: 1812, width: 4, height: 23, fill: gene}, g, 'areg-exon-1');
  mk('rect', {x: 409, y: 1812, width: 26, height: 23, fill: gene}, g, 'areg-exon-2');
  mk('rect', {x: 672, y: 1812, width: 20, height: 23, fill: gene}, g, 'areg-exon-3');
  mk('rect', {x: 811, y: 1812, width: 15, height: 23, fill: gene}, g, 'areg-exon-4');
  mk('rect', {x: 1037, y: 1812, width: 12, height: 23, fill: gene}, g, 'areg-exon-5');
  mk('path', {d: 'M1131 1815L1139 1822L1131 1829ZM1139 1815L1147 1822L1139 1829Z', fill: '#fff', stroke: '#5aa0dc', 'stroke-width': 1.3}, g, 'areg-gene-end-arrows');
})();

/* ---------- panel G: sequence logo ---------- */
(function () {
  const g = mk('g', {}, marks, 'sequence-logo');
  const Y = function (b) { return 1695.7 - b * 75.8; };
  const colors = {A: '#1f9447', T: '#c9273f', C: '#1d5fa5', G: '#e9a830'};
  const adv = {A: 72.2, T: 61.1, C: 72.2, G: 77.8};
  logoTicks.forEach(function (t, i) {
    label(logoTickLabels[i], {x: 1219, y: Y(t) + 5, class: 'm', style: 'font-size:17.5px'}, g, 'logo-y-tick-label');
  });
  logoPositions.forEach(function (p, i) {
    label(p, {x: 1251 + i * 36, y: 1715, class: 'm', style: 'font-size:17px'}, g, 'logo-position-label');
  });
  logoLetters.forEach(function (ch, i) {
    const x1 = 1233.8 + (logoColumns[i] - 1) * 35.6;
    const top = Y(logoUpper[i]), bottom = Y(logoLower[i]);
    const sx = 35 / adv[ch], sy = (bottom - top) / 68.8;
    label(ch, {transform: 'translate(' + x1.toFixed(1) + ',' + bottom.toFixed(1) + ') scale(' + sx.toFixed(3) + ',' + sy.toFixed(3) + ')', style: 'font-size:100px;font-weight:bold;fill:' + colors[ch]}, g, 'logo-letter-' + ch.toLowerCase());
  });
})();

/* ---------- panel G: promoter schematic ---------- */
(function () {
  const g = mk('g', {}, marks, 'promoter-schematic');
  function strand(name, phase, color, x1, x2) {
    let p = '';
    for (let x = x1; x <= x2; x += 2) {
      p += (p ? ' ' : '') + x + ',' + (1800 + 13 * Math.sin((x - 1208) / 40 * 6.283 + phase)).toFixed(1);
    }
    mk('polyline', {points: p, fill: 'none', stroke: color, 'stroke-width': 3}, g, name);
  }
  strand('dna-strand-back', Math.PI, '#8f8480', 1208, 1573);
  strand('dna-strand-front', 0, '#7f2a31', 1208, 1573);
  strand('dna-strand-tss-segment', Math.PI, '#4d628f', 1450, 1510);
  mk('rect', {x: 1259, y: 1783, width: 139, height: 33, rx: 15, fill: 'url(#pill-grad)'}, g, 'binding-site-pill');
  mk('path', {d: 'M1468.5 1788V1757H1537', fill: 'none', stroke: '#e5131f', 'stroke-width': 2.2}, g, 'tss-arrow-line');
  mk('path', {d: 'M1531 1751L1539 1757L1531 1763', fill: 'none', stroke: '#e5131f', 'stroke-width': 2.2}, g, 'tss-arrow-head');
  [1263, 1387].forEach(function (x) {
    mk('path', {d: 'M' + x + ' 1817V1829M' + (x - 3) + ' 1825L' + x + ' 1830L' + (x + 3) + ' 1825', fill: 'none', stroke: '#d9304f', 'stroke-width': 1.5}, g, 'binding-boundary-arrow');
  });
})();

/* ---------- panel G: ChIP-qPCR bars ---------- */
const chip = {id: 'chip', axisX: 1740, yZero: 1819, yTop: 1546, maxV: 15, x0: 1766, step: 79, w: 51, base1: 1728, base2: 1920, tickLeft: 1728, labelX: 1725, tickBottom: 1830, axisW: 2.2, baseW: 2.8, capW: 27, errW: 2.2, outline: 1.5};
const chipDrawn = simpleBarChart(chip, chipCategories, chipValues, chipErrors, chipTicks, chipTickLabels, [BLACK, RED]);
chipDrawn.centers.forEach(function (cx, i) {
  label(chipCategories[i], {x: cx, y: 1857, class: 'm'}, chipDrawn.g, 'chip-x-tick-label');
});
</script>
</body>
</html>
